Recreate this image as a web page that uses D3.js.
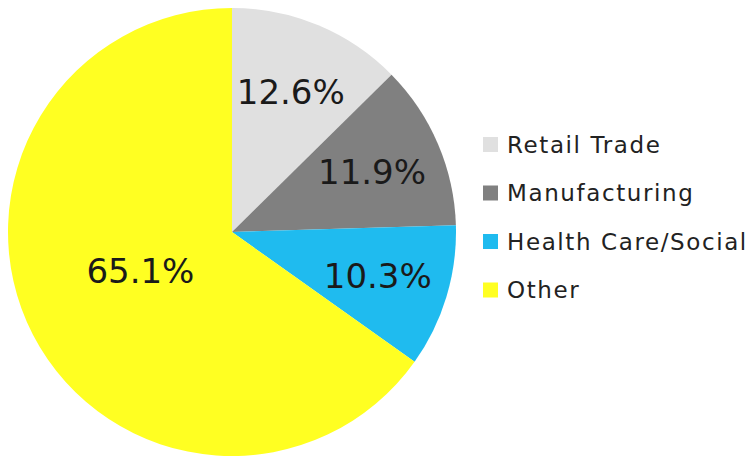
<!DOCTYPE html>
<html>
<head>
<meta charset="utf-8">
<script src="https://cdn.jsdelivr.net/npm/d3@7"></script>
<style>
  body { margin: 0; background: #fff; }
  svg { display: block; font-family: "DejaVu Sans", sans-serif; }
</style>
</head>
<body>
<div id="chart-container"></div>
<script>
const categories = ["Retail Trade", "Manufacturing", "Health Care/Social", "Other"];
const shares = [12.6, 11.9, 10.3, 65.1];
const labels = ["12.6%", "11.9%", "10.3%", "65.1%"];
const colors = ["#e0e0e0", "#808080", "#1fbbef", "#ffff22"];

const width = 755;
const height = 457;
const cx = 232, cy = 232, radius = 224;

const data = categories.map((c, i) => ({ name: c, value: shares[i], label: labels[i], color: colors[i] }));

const svg = d3.select("#chart-container")
  .append("svg")
  .attr("width", width)
  .attr("height", height);

const g = svg.append("g")
  .attr("transform", `translate(${cx},${cy})`);

const pie = d3.pie()
  .value(d => d.value)
  .sort(null);

const arc = d3.arc()
  .innerRadius(0)
  .outerRadius(radius);

const arcs = pie(data);

g.selectAll("path")
  .data(arcs)
  .join("path")
  .attr("d", arc)
  .attr("fill", d => d.data.color);

// big slice gets its label nearer the middle
const labelArc = d3.arc().innerRadius(0).outerRadius(radius * 1.36);
const bigArc = d3.arc().innerRadius(0).outerRadius(radius * 0.88);

g.selectAll("text.pct")
  .data(arcs)
  .join("text")
  .attr("class", "pct")
  .attr("transform", d => {
    let [x, y] = d.data.value > 50 ? bigArc.centroid(d) : labelArc.centroid(d);
    if (d.data.value > 50) { x -= 4; y -= 6; }
    return `translate(${x},${y})`;
  })
  .attr("text-anchor", "middle")
  .attr("dy", "0.36em")
  .style("font-size", "34px")
  .style("fill", "#1a1a1a")
  .text(d => d.data.label);

const legend = svg.append("g")
  .attr("transform", "translate(483,144.5)");

const item = legend.selectAll("g")
  .data(data)
  .join("g")
  .attr("transform", (d, i) => `translate(0,${i * 48.5})`);

item.append("rect")
  .attr("x", 0)
  .attr("y", -7.5)
  .attr("width", 15)
  .attr("height", 15)
  .attr("fill", d => d.color);

item.append("text")
  .attr("x", 24)
  .attr("dy", "0.36em")
  .style("font-size", "23px")
  .style("letter-spacing", "1.6px")
  .style("fill", "#222")
  .text(d => d.name);
</script>
</body>
</html>
